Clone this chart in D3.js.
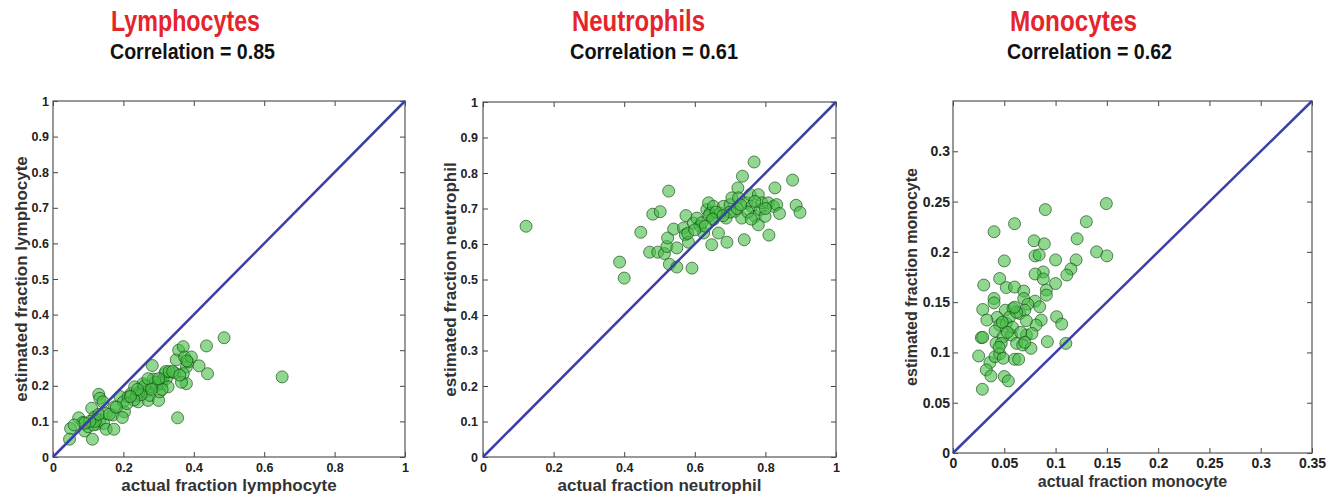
<!DOCTYPE html>
<html>
<head>
<meta charset="utf-8">
<script src="https://cdn.jsdelivr.net/npm/d3@7"></script>
<style>
body{margin:0;background:#fff;}
svg{display:block;}
.tick text{font-family:"Liberation Sans",Arial,sans-serif;font-weight:bold;fill:#222;}
.domain{display:none;}
.tick line{stroke:#444;}
</style>
</head>
<body>
<div id="board"></div>
<script>
var width=1336,height=497;

// panel titles
var titles=["Lymphocytes","Neutrophils","Monocytes"];
var correlations=["Correlation = 0.85","Correlation = 0.61","Correlation = 0.62"];
var xLabels=["actual fraction lymphocyte","actual fraction neutrophil","actual fraction monocyte"];
var yLabels=["estimated fraction lymphocyte","estimated fraction neutrophil","estimated fraction monocyte"];

// tick values
var ticksXFull=[0,0.2,0.4,0.6,0.8,1];
var ticksYFull=[0,0.1,0.2,0.3,0.4,0.5,0.6,0.7,0.8,0.9,1];
var ticksXMono=[0,0.05,0.1,0.15,0.2,0.25,0.3,0.35];
var ticksYMono=[0,0.05,0.1,0.15,0.2,0.25,0.3];

// [actual, estimated]
var lymphocytePoints=[
 [0.05,0.08],[0.047,0.05],[0.073,0.11],[0.085,0.097],[0.09,0.073],[0.1,0.085],[0.112,0.05],
 [0.11,0.137],[0.13,0.176],[0.133,0.165],[0.142,0.155],[0.123,0.092],[0.118,0.112],[0.133,0.103],
 [0.144,0.094],[0.152,0.122],[0.151,0.078],[0.173,0.078],[0.17,0.118],[0.175,0.141],[0.19,0.17],
 [0.2,0.155],[0.203,0.127],[0.197,0.111],[0.213,0.169],[0.222,0.178],[0.232,0.197],[0.237,0.173],
 [0.246,0.183],[0.242,0.155],[0.256,0.192],[0.256,0.206],[0.265,0.183],[0.27,0.159],[0.275,0.173],
 [0.28,0.197],[0.282,0.257],[0.285,0.219],[0.294,0.2],[0.3,0.159],[0.303,0.183],[0.308,0.206],
 [0.313,0.22],[0.318,0.234],[0.322,0.22],[0.327,0.197],[0.346,0.236],[0.35,0.273],[0.357,0.3],
 [0.354,0.11],[0.37,0.31],[0.374,0.281],[0.379,0.253],[0.379,0.206],[0.384,0.267],[0.393,0.281],
 [0.37,0.234],[0.365,0.21],[0.415,0.256],[0.436,0.312],[0.439,0.234],[0.486,0.335],[0.651,0.225],
 [0.26,0.2],[0.25,0.175],[0.29,0.21],[0.31,0.19],[0.32,0.24],[0.23,0.16],[0.21,0.15],[0.27,0.22],
 [0.3,0.22],[0.33,0.24],[0.24,0.19],[0.115,0.09],[0.12,0.1],[0.13,0.12],[0.105,0.1],[0.28,0.19],
 [0.34,0.24],[0.38,0.27],[0.36,0.23],[0.22,0.17],[0.16,0.12],[0.18,0.14],[0.09,0.095],[0.06,0.09]
];
var neutrophilPoints=[
 [0.122,0.65],[0.387,0.549],[0.4,0.504],[0.447,0.633],[0.481,0.684],[0.502,0.691],[0.472,0.577],
 [0.495,0.577],[0.514,0.573],[0.521,0.593],[0.523,0.617],[0.526,0.749],[0.528,0.543],[0.549,0.535],
 [0.549,0.589],[0.54,0.642],[0.575,0.68],[0.568,0.645],[0.573,0.626],[0.582,0.605],[0.592,0.532],
 [0.596,0.659],[0.606,0.673],[0.615,0.65],[0.625,0.631],[0.634,0.697],[0.639,0.716],[0.643,0.687],
 [0.653,0.706],[0.648,0.598],[0.653,0.669],[0.667,0.631],[0.672,0.687],[0.681,0.706],[0.689,0.673],
 [0.691,0.605],[0.7,0.711],[0.705,0.73],[0.714,0.692],[0.722,0.758],[0.724,0.73],[0.733,0.673],
 [0.735,0.791],[0.74,0.612],[0.747,0.716],[0.757,0.739],[0.761,0.706],[0.768,0.831],[0.771,0.678],
 [0.78,0.739],[0.78,0.654],[0.785,0.697],[0.79,0.716],[0.799,0.678],[0.808,0.716],[0.81,0.625],
 [0.823,0.706],[0.827,0.758],[0.832,0.711],[0.84,0.686],[0.877,0.78],[0.887,0.709],[0.898,0.689],
 [0.62,0.66],[0.64,0.68],[0.66,0.69],[0.65,0.67],[0.7,0.69],[0.72,0.7],[0.75,0.69],[0.77,0.72],
 [0.8,0.7],[0.76,0.67],[0.58,0.63],[0.6,0.64],[0.63,0.65],[0.68,0.68],[0.73,0.71]
];
var monocytePoints=[
 [0.1495,0.248],[0.09,0.242],[0.13,0.23],[0.06,0.228],[0.04,0.22],[0.121,0.213],[0.079,0.211],
 [0.089,0.208],[0.14,0.2],[0.15,0.196],[0.08,0.196],[0.084,0.197],[0.1,0.192],[0.12,0.192],
 [0.05,0.191],[0.115,0.183],[0.111,0.177],[0.088,0.18],[0.08,0.178],[0.088,0.173],[0.0455,0.1735],
 [0.1,0.1685],[0.03,0.167],[0.052,0.1645],[0.06,0.165],[0.069,0.161],[0.091,0.162],[0.091,0.157],
 [0.04,0.1536],[0.04,0.1493],[0.08,0.151],[0.069,0.1536],[0.073,0.148],[0.029,0.1427],[0.051,0.142],
 [0.0585,0.1437],[0.065,0.1388],[0.07,0.142],[0.0845,0.1454],[0.043,0.1348],[0.033,0.1322],
 [0.101,0.1355],[0.106,0.1282],[0.086,0.1322],[0.081,0.1272],[0.0715,0.1315],[0.0455,0.1272],
 [0.052,0.1289],[0.041,0.1213],[0.0276,0.1147],[0.029,0.115],[0.049,0.1156],[0.057,0.1173],
 [0.0715,0.1173],[0.077,0.1189],[0.042,0.109],[0.047,0.109],[0.062,0.109],[0.068,0.1074],
 [0.076,0.1041],[0.092,0.1107],[0.11,0.109],[0.025,0.0965],[0.036,0.0899],[0.041,0.0958],
 [0.0455,0.0985],[0.049,0.0942],[0.06,0.0932],[0.064,0.0932],[0.0325,0.0826],[0.037,0.0766],
 [0.05,0.076],[0.054,0.0717],[0.0286,0.0634],
 [0.055,0.135],[0.062,0.14],[0.058,0.125],[0.066,0.12],[0.048,0.13],[0.053,0.12],[0.07,0.11],
 [0.045,0.105],[0.06,0.145]
];

var svg=d3.select('#board').append('svg')
    .attr('width',width)
    .attr('height',height);

// panel boxes (left, top, right, bottom), domain max, fonts
var panels=[
 {data:lymphocytePoints,box:[53,101,405,457],max:1,tx:ticksXFull,ty:ticksYFull,fs:12.5,lfs:17,
  title:[111,260],corr:[110,275],ylx:21,xly:491,padX:6,padY:4},
 {data:neutrophilPoints,box:[483,102,836,457],max:1,tx:ticksXFull,ty:ticksYFull,fs:12.5,lfs:17,
  title:[572,705],corr:[570,738],ylx:450,xly:491,padX:6,padY:5},
 {data:monocytePoints,box:[953,101,1312,453],max:0.35,tx:ticksXMono,ty:ticksYMono,fs:14,lfs:16,
  title:[1010,1137],corr:[1007,1172],ylx:911,xly:487,padX:5,padY:3}
];

var fmt=function(d){return d===0?"0":d===1?"1":String(+d.toFixed(2));};

panels.forEach(function(p,i){
  var b=p.box;
  var x=d3.scaleLinear().domain([0,p.max]).range([b[0],b[2]]);
  var y=d3.scaleLinear().domain([0,p.max]).range([b[3],b[1]]);
  var g=svg.append('g');

  // titles
  g.append('text').attr('x',p.title[0]).attr('y',31)
    .attr('textLength',p.title[1]-p.title[0]).attr('lengthAdjust','spacingAndGlyphs')
    .style('font-family','"Liberation Sans",Arial,sans-serif').style('font-weight','bold')
    .style('font-size','29px').style('fill','#e5242b').text(titles[i]);
  g.append('text').attr('x',p.corr[0]).attr('y',59)
    .attr('textLength',p.corr[1]-p.corr[0]).attr('lengthAdjust','spacingAndGlyphs')
    .style('font-family','"Liberation Sans",Arial,sans-serif').style('font-weight','bold')
    .style('font-size','22px').style('fill','#111').text(correlations[i]);

  // axes, ticks pointing inward
  g.append('g').attr('transform','translate(0,'+b[3]+')')
    .call(d3.axisBottom(x).tickValues(p.tx).tickFormat(fmt).tickSizeInner(-5).tickSizeOuter(0).tickPadding(p.padX))
    .selectAll('text').style('font-size',p.fs+'px');
  g.append('g').attr('transform','translate('+b[0]+',0)')
    .call(d3.axisLeft(y).tickValues(p.ty).tickFormat(fmt).tickSizeInner(-5).tickSizeOuter(0).tickPadding(p.padY))
    .selectAll('text').style('font-size',p.fs+'px');
  g.append('g').attr('transform','translate(0,'+b[1]+')')
    .call(d3.axisTop(x).tickValues(p.tx).tickFormat('').tickSizeInner(-5).tickSizeOuter(0));
  g.append('g').attr('transform','translate('+b[2]+',0)')
    .call(d3.axisRight(y).tickValues(p.ty).tickFormat('').tickSizeInner(-5).tickSizeOuter(0));

  g.append('rect').attr('x',b[0]).attr('y',b[1])
    .attr('width',b[2]-b[0]).attr('height',b[3]-b[1])
    .attr('fill','none').attr('stroke','#555').attr('stroke-width',1.2);

  // points
  g.append('g').selectAll('circle').data(p.data).enter().append('circle')
    .attr('cx',function(d){return x(d[0]);})
    .attr('cy',function(d){return y(d[1]);})
    .attr('r',6)
    .attr('fill','rgba(70,190,70,0.6)')
    .attr('stroke','rgba(20,70,20,0.65)')
    .attr('stroke-width',1);

  // identity line
  g.append('line')
    .attr('x1',x(0)).attr('y1',y(0))
    .attr('x2',x(p.max)).attr('y2',y(p.max))
    .attr('stroke','#3c3fa6').attr('stroke-width',2.5);

  // axis labels
  g.append('text').attr('x',(b[0]+b[2])/2).attr('y',p.xly)
    .attr('text-anchor','middle')
    .style('font-family','"Liberation Sans",Arial,sans-serif').style('font-weight','bold')
    .style('font-size',p.lfs+'px').style('fill','#333').text(xLabels[i]);
  g.append('text')
    .attr('transform','translate('+p.ylx+','+((b[1]+b[3])/2)+') rotate(-90)')
    .attr('text-anchor','middle').attr('dy','0.35em')
    .style('font-family','"Liberation Sans",Arial,sans-serif').style('font-weight','bold')
    .style('font-size',p.lfs+'px').style('fill','#333').text(yLabels[i]);
});
</script>
</body>
</html>
